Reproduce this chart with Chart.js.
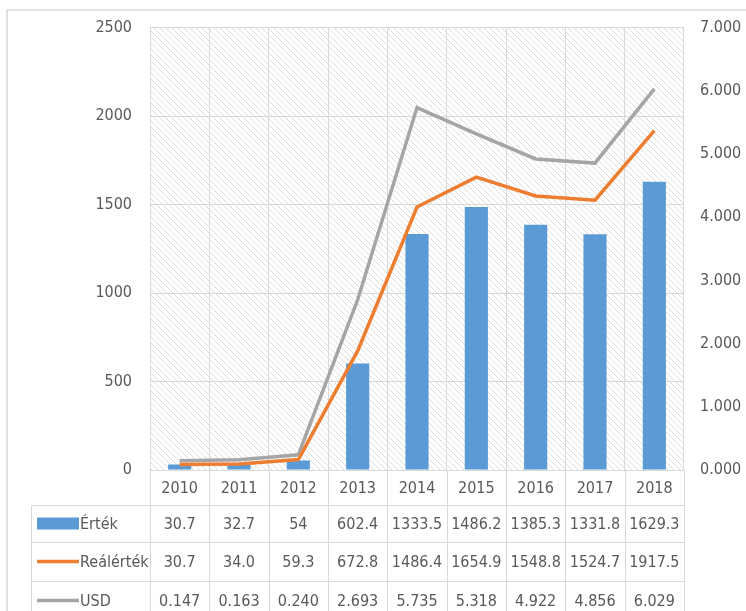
<!DOCTYPE html>
<html>
<head>
<meta charset="utf-8">
<script src="https://cdn.jsdelivr.net/npm/chart.js@4"></script>
<style>
  html, body { margin: 0; padding: 0; background: #fff; }
  #wrap { width: 746px; height: 611px; }
</style>
</head>
<body>
<div id="wrap"><canvas id="chart" width="746" height="611"></canvas></div>
<script>
// DATA
const years = ['2010', '2011', '2012', '2013', '2014', '2015', '2016', '2017', '2018'];
const ertek = [30.7, 32.7, 54, 602.4, 1333.5, 1486.2, 1385.3, 1331.8, 1629.3];
const realErtek = [30.7, 34.0, 59.3, 672.8, 1486.4, 1654.9, 1548.8, 1524.7, 1917.5];
const usd = [0.147, 0.163, 0.240, 2.693, 5.735, 5.318, 4.922, 4.856, 6.029];
const seriesNames = ['Érték', 'Reálérték', 'USD'];

const FONT = '"Liberation Sans Narrow", "DejaVu Sans Condensed", "Liberation Sans", sans-serif';
const TEXT = '#595959';
const GRID = '#d9d9d9';
const BLUE = '#5b9bd5';
const ORANGE = '#ed7d31';
const GREY = '#a5a5a5';

// table rows (y boundaries below the plot)
const rowEdges = [470, 505, 542, 581, 620];

function hatchPattern(ctx) {
    const c = document.createElement('canvas');
    c.width = 6; c.height = 6;
    const p = c.getContext('2d');
    p.fillStyle = '#fff';
    p.fillRect(0, 0, 6, 6);
    p.strokeStyle = '#dcdcdc';
    p.lineWidth = 1;
    p.beginPath();
    p.moveTo(-1, -1); p.lineTo(7, 7);
    p.moveTo(-1, 5); p.lineTo(1, 7);
    p.moveTo(5, -1); p.lineTo(7, 1);
    p.stroke();
    return ctx.createPattern(c, 'repeat');
}

const tablePlugin = {
    id: 'dataTable',
    beforeDraw(chart) {
        const ctx = chart.ctx;
        const a = chart.chartArea;
        ctx.save();
        // outer frame
        ctx.strokeStyle = GRID;
        ctx.lineWidth = 1.5;
        ctx.strokeRect(7, 10, 760, 620);
        // hatched plot background
        ctx.fillStyle = hatchPattern(ctx);
        ctx.fillRect(a.left, a.top, a.right - a.left, a.bottom - a.top);
        ctx.restore();
    },
    afterDraw(chart) {
        const ctx = chart.ctx;
        const x = chart.scales.x;
        const a = chart.chartArea;
        const step = (a.right - a.left) / years.length;
        ctx.save();
        ctx.strokeStyle = GRID;
        ctx.lineWidth = 1;
        ctx.beginPath();
        // horizontal lines
        ctx.moveTo(a.left, rowEdges[0] + 0.5); ctx.lineTo(a.right, rowEdges[0] + 0.5);
        for (let i = 1; i < rowEdges.length; i++) {
            ctx.moveTo(31, rowEdges[i] + 0.5); ctx.lineTo(a.right, rowEdges[i] + 0.5);
        }
        // vertical lines
        for (let i = 0; i <= years.length; i++) {
            const px = Math.round(a.left + i * step) + 0.5;
            ctx.moveTo(px, rowEdges[0]); ctx.lineTo(px, 611);
        }
        ctx.moveTo(31.5, rowEdges[1]); ctx.lineTo(31.5, 611);
        ctx.stroke();

        ctx.fillStyle = TEXT;
        ctx.font = '16px ' + FONT;
        ctx.textAlign = 'center';
        ctx.textBaseline = 'middle';
        const mid = i => (rowEdges[i] + rowEdges[i + 1]) / 2;
        const rows = [
            years,
            ertek.map(v => String(v)),
            realErtek.map(v => v.toFixed(1)),
            usd.map(v => v.toFixed(3))
        ];
        rows.forEach((row, r) => {
            row.forEach((txt, i) => {
                ctx.fillText(txt, x.getPixelForValue(i), mid(r) + 1);
            });
        });

        // legend keys
        ctx.textAlign = 'left';
        ctx.fillStyle = BLUE;
        ctx.fillRect(37, mid(1) - 6, 42, 12);
        ctx.lineWidth = 3.5;
        ctx.strokeStyle = ORANGE;
        ctx.beginPath(); ctx.moveTo(37, mid(2)); ctx.lineTo(79, mid(2)); ctx.stroke();
        ctx.strokeStyle = GREY;
        ctx.beginPath(); ctx.moveTo(37, mid(3)); ctx.lineTo(79, mid(3)); ctx.stroke();
        ctx.fillStyle = TEXT;
        seriesNames.forEach((n, i) => ctx.fillText(n, 80, mid(i + 1) + 1));
        ctx.restore();
    }
};

new Chart(document.getElementById('chart'), {
    data: {
        labels: years,
        datasets: [
            {
                type: 'bar', label: seriesNames[0], data: ertek, yAxisID: 'y',
                backgroundColor: BLUE, barPercentage: 0.39, categoryPercentage: 1, order: 3
            },
            {
                type: 'line', label: seriesNames[1], data: realErtek, yAxisID: 'y',
                borderColor: ORANGE, borderWidth: 3.5, pointRadius: 0, tension: 0, order: 1
            },
            {
                type: 'line', label: seriesNames[2], data: usd, yAxisID: 'y1',
                borderColor: GREY, borderWidth: 3.5, pointRadius: 0, tension: 0, order: 2
            }
        ]
    },
    options: {
        responsive: false,
        animation: false,
        layout: { padding: { top: 24, left: 0, right: 0, bottom: 0 } },
        plugins: { legend: { display: false }, tooltip: { enabled: false } },
        scales: {
            x: {
                offset: true,
                grid: { offset: true, color: GRID, drawTicks: false },
                border: { color: GRID },
                ticks: { display: false },
                afterFit(s) { s.height = 141; }
            },
            y: {
                position: 'left',
                min: 0, max: 2500,
                grid: { color: GRID, drawTicks: false },
                border: { color: GRID },
                ticks: {
                    stepSize: 500, padding: 18, color: TEXT,
                    font: { family: FONT, size: 16 },
                    callback: v => String(v)
                },
                afterFit(s) { s.width = 150; }
            },
            y1: {
                position: 'right',
                min: 0, max: 7,
                grid: { display: false, drawTicks: false },
                border: { display: false },
                ticks: {
                    stepSize: 1, padding: 16, color: TEXT,
                    font: { family: FONT, size: 16 },
                    callback: v => v.toFixed(3)
                },
                afterFit(s) { s.width = 62; }
            }
        }
    },
    plugins: [tablePlugin]
});
</script>
</body>
</html>
